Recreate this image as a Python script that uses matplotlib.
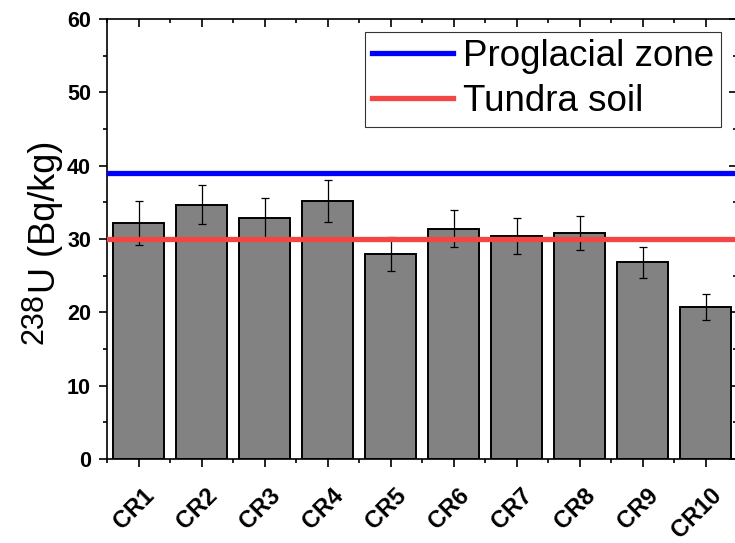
import matplotlib
matplotlib.use("Agg")
import matplotlib.pyplot as plt
import matplotlib.transforms as mtransforms
from matplotlib.ticker import MultipleLocator

# === DATA ===
sites = ['CR1', 'CR2', 'CR3', 'CR4', 'CR5', 'CR6', 'CR7', 'CR8', 'CR9', 'CR10']
u238 = [32.2, 34.7, 32.8, 35.2, 28.0, 31.4, 30.4, 30.8, 26.8, 20.7]
u238_err = [3.0, 2.7, 2.8, 2.9, 2.3, 2.5, 2.4, 2.3, 2.1, 1.8]

ref_labels = ['Proglacial zone', 'Tundra soil']
ref_values = [39.0, 30.0]
ref_colors = ['#0000FF', '#F44545']

# === STYLE ===
plt.rcParams['font.family'] = ['Liberation Sans', 'DejaVu Sans']

fig = plt.figure(figsize=(7.35, 5.43), dpi=100)
W, H = 735, 543
ax = fig.add_axes([107 / W, (H - 459) / H, 630 / W, 440 / H])

x = list(range(1, len(sites) + 1))
ax.bar(x, u238, width=0.8, color='#828282', edgecolor='black', linewidth=1.4, zorder=2)
ax.errorbar(x, u238, yerr=u238_err, fmt='none', ecolor='black', elinewidth=0.9,
            capsize=3.2, capthick=0.9, zorder=3)

for lbl, val, col in zip(ref_labels, ref_values, ref_colors):
    ax.axhline(val, color=col, linewidth=3.8, label=lbl, zorder=4)

ax.set_xlim(0.5, 10.5)
ax.set_ylim(0, 60)
ax.set_xticks(x)
ax.set_xticklabels(sites, rotation=45, ha='right', va='center',
                   rotation_mode='anchor', fontsize=17, fontweight='bold')
ax.xaxis.set_minor_locator(MultipleLocator(1, offset=0.5))
ax.yaxis.set_major_locator(MultipleLocator(10))
ax.yaxis.set_minor_locator(MultipleLocator(5))
for lab in ax.get_yticklabels():
    lab.set_fontsize(15.5)
    lab.set_fontweight('bold')

ax.tick_params(which='both', direction='out', width=1.2, top=True, right=True)
ax.tick_params(which='major', length=6)
ax.tick_params(which='minor', length=3)
ax.tick_params(axis='x', which='major', pad=0)
ax.tick_params(axis='y', which='major', pad=5.5)
# top and right ticks point inward
for t in ax.xaxis.get_major_ticks() + ax.xaxis.get_minor_ticks():
    t.tick2line.set_marker(matplotlib.lines.TICKDOWN)
for t in ax.yaxis.get_major_ticks() + ax.yaxis.get_minor_ticks():
    t.tick2line.set_marker(matplotlib.lines.TICKLEFT)

offset = mtransforms.ScaledTranslation(0.125, -0.245, fig.dpi_scale_trans)
for lab in ax.get_xticklabels():
    lab.set_transform(lab.get_transform() + offset)

for s in ax.spines.values():
    s.set_linewidth(1.2)

# y label: large superscript mass number, then the unit text
fig.text(55 / W, 1 - 293 / H, 'U (Bq/kg)', rotation=90, ha='left', va='baseline',
         rotation_mode='anchor', fontsize=26)
fig.text(43 / W, 1 - 293 / H, '238', rotation=90, ha='right', va='baseline',
         rotation_mode='anchor', fontsize=22)

leg = ax.legend(loc='upper right', bbox_to_anchor=(0.9746, 0.9705), fontsize=26.5,
                frameon=True, fancybox=False, borderaxespad=0, borderpad=0.2,
                handlelength=2.2, handletextpad=0.25, labelspacing=0.27)
leg.get_frame().set_edgecolor('black')
leg.get_frame().set_linewidth(0.8)

fig.savefig('out.png', dpi=100)
